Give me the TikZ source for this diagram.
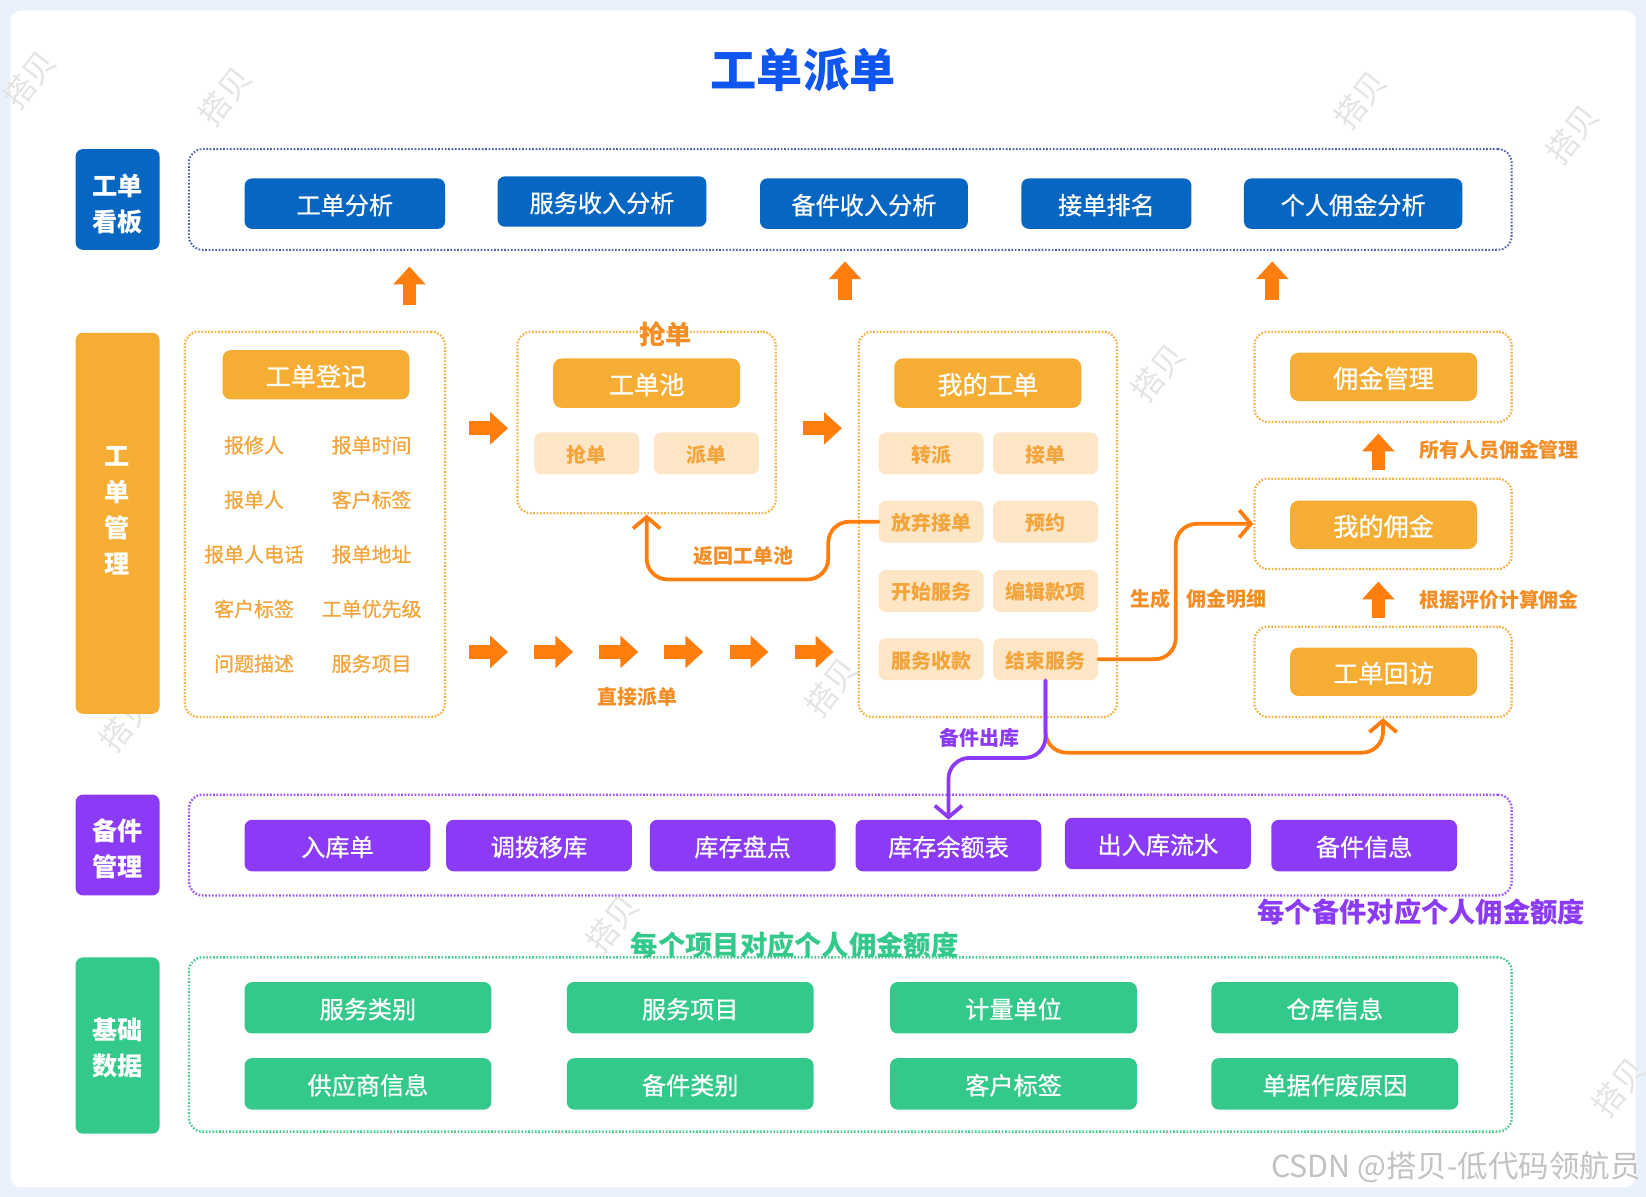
\documentclass[tikz,border=0pt]{standalone}
\usepackage{fontspec}
\setmainfont{Noto Sans CJK SC}
\newfontfamily\medfont{Noto Sans CJK SC}[FakeBold=0.7]
\usetikzlibrary{arrows.meta,calc}

\definecolor{pagebg}{HTML}{E8F1FC}
\definecolor{titleblue}{HTML}{0F55F0}
\definecolor{boardblue}{HTML}{0766C1}
\definecolor{boardline}{HTML}{4F63AA}
\definecolor{orghead}{HTML}{F6AD33}
\definecolor{orgsub}{HTML}{FDE6C5}
\definecolor{orgtext}{HTML}{F3A53C}
\definecolor{orgline}{HTML}{F7B245}
\definecolor{orgarrow}{HTML}{FF7E0E}
\definecolor{orglabel}{HTML}{F28E25}
\definecolor{purp}{HTML}{8B3BF6}
\definecolor{purpline}{HTML}{9B58F6}
\definecolor{grn}{HTML}{33C98A}
\definecolor{grnline}{HTML}{4CCB92}
\definecolor{wmark}{HTML}{E4E4E4}

\newcommand\fsz[1]{\fontsize{#1}{#1}\selectfont}
\newcommand\catfont[1]{\fontsize{24}{#1}\selectfont\bfseries}

\begin{document}
\begin{tikzpicture}[x=1pt,y=-1pt,
  % box text sits a little below the geometric centre
  t19/.style={text height=18pt, text depth=1.3pt},
  t23/.style={text height=21.9pt, text depth=1.6pt},
  t24/.style={text height=22.8pt, text depth=1.7pt},
  t26/.style={text height=24.7pt, text depth=1.8pt},
  catbox/.style={fill=#1, rounded corners=7pt, minimum width=80pt, inner sep=0pt},
  cattext/.style={text=white, font=\catfont{34.3}, align=center, inner sep=0pt},
  board/.style={fill=boardblue, rounded corners=7pt, minimum height=48pt, text=white,
    font=\medfont\fsz{23}, inner sep=0pt, t23},
  headbox/.style={fill=orghead, rounded corners=8pt, minimum width=178pt, minimum height=47pt,
    text=white, font=\medfont\fsz{24}, inner sep=0pt, t24},
  subbox/.style={fill=orgsub, rounded corners=7pt, minimum width=100pt, minimum height=40pt,
    text=orgtext, font=\fsz{19}\bfseries, inner sep=0pt, t19},
  field/.style={text=orgtext, font=\medfont\fsz{19}, inner sep=0pt, t19},
  spare/.style={fill=purp, rounded corners=7pt, minimum width=177pt, minimum height=49pt,
    text=white, font=\medfont\fsz{23}, inner sep=0pt, t23},
  basebox/.style={fill=grn, rounded corners=7pt, minimum width=235pt, minimum height=49pt,
    text=white, font=\medfont\fsz{23}, inner sep=0pt, t23},
  frame/.style={draw=#1, line width=2.2pt, dash pattern=on 1.6pt off 1.6pt,
    rounded corners=13pt, inner sep=0pt},
  tag/.style={text=orglabel, font=\fsz{19}\bfseries, inner sep=0pt, t19},
  blockarrow/.style={draw=orgarrow, line width=13pt, -{Triangle[length=17pt,width=30pt]}},
  flow/.style={draw=orgarrow, line width=3.6pt, rounded corners=20pt,
    -{Straight Barb[length=11pt,width=26pt]}, line cap=round},
  wm/.style={text=wmark, font=\fsz{30}, rotate=52, inner sep=0pt}
]
\useasboundingbox (0,0) rectangle (1568,1140);

% page background and white sheet
\fill[pagebg] (0,0) rectangle (1568,1140);
\fill[white, rounded corners=10pt] (10,10) rectangle (1558,1131);

% faint watermarks
\node[wm] (wm1) at (28,76) {搭贝};
\node[wm] (wm2) at (214,92) {搭贝};
\node[wm] (wm3) at (1296,95) {搭贝};
\node[wm] (wm4) at (1498,128) {搭贝};
\node[wm] (wm5) at (1103,355) {搭贝};
\node[wm] (wm6) at (792,655) {搭贝};
\node[wm] (wm7) at (120,688) {搭贝};
\node[wm] (wm8) at (583,880) {搭贝};
\node[wm] (wm9) at (1542,1036) {搭贝};

% title
\node[text=titleblue, font=\fsz{44}\bfseries, inner sep=0pt] (title) at (765,67) {工单派单};

% ---------- dashboard row ----------
\node[catbox=boardblue, minimum height=96pt] (cat1) at (112,190) {};
\node[cattext] (cat1t) at (112,194.5) {工单\\看板};
\node[frame=boardline, line width=1.8pt, minimum width=1260pt, minimum height=96pt] (fr1) at (810,190) {};
\node[board, minimum width=191pt] (b1) at (328.5,194) {工单分析};
\node[board, minimum width=199pt] (b2) at (573.5,192) {服务收入分析};
\node[board, minimum width=198pt] (b3) at (823,194) {备件收入分析};
\node[board, minimum width=162pt] (b4) at (1054,194) {接单排名};
\node[board, minimum width=208pt] (b5) at (1289,194) {个人佣金分析};

% ---------- work order row ----------
\node[catbox=orghead, minimum height=363pt] (cat2) at (112,498.5) {};
\node[cattext] (cat2t) at (112,487) {工\\单\\管\\理};

% registration
\node[frame=orgline, minimum width=248pt, minimum height=367pt] (frA) at (300,499.5) {};
\node[headbox] (hA) at (301,357) {工单登记};
\node[field] (f1) at (242,423) {报修人};
\node[field] (f2) at (354,423) {报单时间};
\node[field] (f3) at (242,475) {报单人};
\node[field] (f4) at (354,475) {客户标签};
\node[field] (f5) at (242,527) {报单人电话};
\node[field] (f6) at (354,527) {报单地址};
\node[field] (f7) at (242,579) {客户标签};
\node[field] (f8) at (354,579) {工单优先级};
\node[field] (f9) at (242,631) {问题描述};
\node[field] (f10) at (354,631) {服务项目};

% order pool
\node[frame=orgline, minimum width=246pt, minimum height=173pt] (frB) at (616,402.5) {};
\node[text=orglabel, font=\fsz{25}\bfseries, inner sep=0pt] (tB) at (634,318) {抢单};
\node[headbox] (hB) at (616,365) {工单池};
\node[subbox] (sB1) at (559,432) {抢单};
\node[subbox] (sB2) at (673,432) {派单};

% my orders
\node[frame=orgline, minimum width=246pt, minimum height=367pt] (frC) at (941,499.5) {};
\node[headbox] (hC) at (941,365) {我的工单};
\node[subbox] (sC1) at (887,432) {转派};
\node[subbox] (sC2) at (996,432) {接单};
\node[subbox] (sC3) at (887,497) {放弃接单};
\node[subbox] (sC4) at (996,497) {预约};
\node[subbox] (sC5) at (887,563) {开始服务};
\node[subbox] (sC6) at (996,563) {编辑款项};
\node[subbox] (sC7) at (887,628) {服务收款};
\node[subbox] (sC8) at (996,628) {结束服务};

% commission column
\node[frame=orgline, minimum width=245pt, minimum height=86pt] (frD) at (1317.5,359) {};
\node[headbox, minimum height=46pt] (hD) at (1318,359) {佣金管理};
\node[frame=orgline, minimum width=245pt, minimum height=86pt] (frE) at (1317.5,499) {};
\node[headbox, minimum height=46pt] (hE) at (1318,500) {我的佣金};
\node[frame=orgline, minimum width=245pt, minimum height=86pt] (frF) at (1317.5,640) {};
\node[headbox, minimum height=46pt] (hF) at (1318,640) {工单回访};

% ---------- spare parts row ----------
\node[catbox=purp, minimum height=96pt] (cat3) at (112,805) {};
\node[cattext] (cat3t) at (112,808.5) {备件\\管理};
\node[frame=purpline, minimum width=1260pt, minimum height=96pt] (fr3) at (810,805) {};
\node[spare] (p1) at (321.5,805.5) {入库单};
\node[spare] (p2) at (513.5,805.5) {调拨移库};
\node[spare] (p3) at (707.5,805.5) {库存盘点};
\node[spare] (p4) at (903.5,805.5) {库存余额表};
\node[spare] (p5) at (1103,803.5) {出入库流水};
\node[spare] (p6) at (1299.5,805.5) {备件信息};
\node[text=purp, font=\fsz{26}\bfseries, inner sep=0pt, t26] (tP) at (1354,867) {每个备件对应个人佣金额度};

% ---------- base data row ----------
\node[catbox=grn, minimum height=168pt] (cat4) at (112,996) {};
\node[cattext] (cat4t) at (112,998.5) {基础\\数据};
\node[frame=grnline, minimum width=1260pt, minimum height=166pt] (fr4) at (810,995) {};
\node[text=grn, font=\fsz{26}\bfseries, inner sep=0pt, t26] (tG) at (757,899) {每个项目对应个人佣金额度};
\node[basebox] (g1) at (350.5,960) {服务类别};
\node[basebox] (g2) at (657.5,960) {服务项目};
\node[basebox] (g3) at (965.5,960) {计量单位};
\node[basebox] (g4) at (1271.5,960) {仓库信息};
\node[basebox] (g5) at (350.5,1032.5) {供应商信息};
\node[basebox] (g6) at (657.5,1032.5) {备件类别};
\node[basebox] (g7) at (965.5,1032.5) {客户标签};
\node[basebox] (g8) at (1271.5,1032.5) {单据作废原因};

% ---------- block arrows ----------
\draw[blockarrow] (390,291) -- (390,254);
\draw[blockarrow] (805,286) -- (805,249);
\draw[blockarrow] (1212,286) -- (1212,249);
\draw[blockarrow] (447,408) -- (484,408);
\draw[blockarrow] (765,408) -- (802,408);
\foreach \x in {447,509,571,633,695,757}
  \draw[blockarrow] (\x,621) -- ({\x+37},621);
\draw[blockarrow] (1313,448) -- (1313,413);
\draw[blockarrow] (1313,589) -- (1313,554);

% ---------- flow connectors ----------
\draw[flow] (sC3.west) -- (789,497) -- (789,552) -- (616,552) -- (frB.south);
\draw[flow] (sC8.east) -- (1120,628) |- (frE.west);
\draw[flow] (sC8.south) -- (996,717) -| (frF.south);
\draw[flow, draw=purp] (sC8.south) -- (996,722) -| (p4.north);

% connector labels
\node[tag] (l1) at (607,663) {直接派单};
\node[tag] (l2) at (708,528) {返回工单池};
\node[tag] (l3) at (1096,569) {生成};
\node[tag] (l4) at (1168,569) {佣金明细};
\node[tag] (l5) at (1428,427) {所有人员佣金管理};
\node[tag] (l6) at (1428,570) {根据评价计算佣金};
\node[tag, text=purp] (l7) at (933,702) {备件出库};

% footer credit
\node[text=black!24, font=\fsz{29}, inner sep=0pt, anchor=east] (credit) at (1563,1112) {CSDN @搭贝-低代码领航员};
\end{tikzpicture}
\end{document}
